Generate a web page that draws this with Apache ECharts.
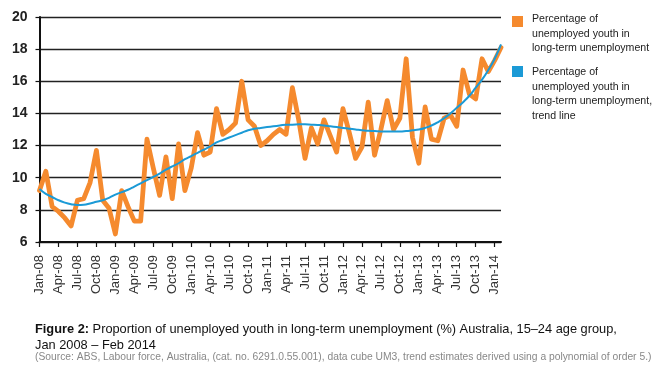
<!DOCTYPE html>
<html><head><meta charset="utf-8">
<script src="https://cdn.jsdelivr.net/npm/echarts@6/dist/echarts.min.js"></script>
<style>html,body{margin:0;padding:0;background:#fff;}#c{width:664px;height:373px;}</style>
</head><body><div id="c"></div>
<script>
const monthNames = ['Jan','Feb','Mar','Apr','May','Jun','Jul','Aug','Sep','Oct','Nov','Dec'];
const years = ['08','09','10','11','12','13','14'];
const categories = [];
years.forEach(function(y){ monthNames.forEach(function(m){ categories.push(m + '-' + y); }); });
categories.length = 74; // Jan-08 .. Feb-14

const youthLTU = [9.2,10.4,8.2,7.9,7.5,7.0,8.6,8.7,9.7,11.7,
  8.6,8.1,6.5,9.2,8.2,7.3,7.3,12.4,10.6,8.9,
  11.3,8.7,12.1,9.2,10.6,12.8,11.4,11.6,14.3,12.7,
  13.0,13.4,16.0,13.6,13.2,12.0,12.3,12.7,13.0,12.7,
  15.6,13.6,11.2,13.1,12.1,13.6,12.6,11.6,14.3,12.8,
  11.2,11.9,14.7,11.4,13.0,14.8,13.0,13.7,17.4,12.5,
  10.9,14.4,12.4,12.3,13.7,13.9,13.2,16.7,15.2,14.9,
  17.4,16.6,17.3,18.1];

const trendLine = [9.3,9.0,8.8,8.6,8.45,8.35,8.3,8.32,8.4,8.5,
  8.6,8.75,8.95,9.1,9.25,9.45,9.65,9.85,10.05,10.25,
  10.5,10.7,10.9,11.15,11.35,11.55,11.75,11.95,12.2,12.35,
  12.5,12.65,12.8,12.95,13.05,13.1,13.15,13.2,13.25,13.3,
  13.3,13.32,13.32,13.3,13.28,13.25,13.2,13.15,13.1,13.05,
  13.0,12.95,12.92,12.9,12.88,12.87,12.87,12.87,12.9,12.95,
  13.0,13.1,13.25,13.45,13.7,14.0,14.35,14.7,15.1,15.6,
  16.1,16.7,17.4,18.3];

const seriesNames = ['Percentage of\nunemployed youth in\nlong-term unemployment',
  'Percentage of\nunemployed youth in\nlong-term unemployment,\ntrend line'];
const colors = ['#F58A2E', '#1B9AD6'];

const font = '"Liberation Sans", Arial, sans-serif';
const chart = echarts.init(document.getElementById('c'), null, {renderer:'canvas'});
chart.setOption({
  animation: false,
  backgroundColor: '#fff',
  grid: {left: 39.5, right: 163, top: 17, bottom: 131, containLabel: false},
  xAxis: {
    type: 'category', data: categories, boundaryGap: false,
    axisLine: {lineStyle: {color: '#111', width: 2}},
    axisTick: {show: true, interval: 2, length: 5, lineStyle: {color: '#111', width: 1.2}},
    axisLabel: {interval: 2, rotate: 90, color: '#333', fontSize: 13, fontFamily: font, margin: 13}
  },
  yAxis: {
    type: 'value', min: 6, max: 20, interval: 2,
    axisLine: {show: true, lineStyle: {color: '#111', width: 2}},
    axisTick: {show: true, length: 4, lineStyle: {color: '#111', width: 1.2}},
    axisLabel: {color: '#222', fontSize: 14, fontWeight: 'bold', fontFamily: font, margin: 12},
    splitLine: {lineStyle: {color: '#222', width: 1.3}}
  },
  series: [
    {name: 'LTU', type: 'line', data: youthLTU, symbol: 'none',
     lineStyle: {color: colors[0], width: 4.8, join: 'round', cap: 'round'}, z: 2},
    {name: 'Trend', type: 'line', data: trendLine, symbol: 'none', smooth: true,
     lineStyle: {color: colors[1], width: 2}, z: 3}
  ],
  graphic: [
    {type: 'rect', left: 512, top: 16, shape: {width: 11, height: 11}, style: {fill: colors[0]}},
    {type: 'text', left: 532, top: 12, style: {text: seriesNames[0], font: '10.6px ' + font, fill: '#222', lineHeight: 14.5}},
    {type: 'rect', left: 512, top: 66, shape: {width: 11, height: 11}, style: {fill: colors[1]}},
    {type: 'text', left: 532, top: 65, style: {text: seriesNames[1], font: '10.6px ' + font, fill: '#222', lineHeight: 14.5}},
    {type: 'text', left: 35, top: 321, style: {
      text: '{b|Figure 2:} Proportion of unemployed youth in long-term unemployment (%) Australia, 15–24 age group,\nJan 2008 – Feb 2014',
      font: '12.8px ' + font, fill: '#111', lineHeight: 16,
      rich: {b: {fontWeight: 'bold', fontSize: 12.8, fontFamily: font, fill: '#111'}}}},
    {type: 'text', left: 35, top: 352, style: {
      text: '(Source: ABS, Labour force, Australia, (cat. no. 6291.0.55.001), data cube UM3, trend estimates derived using a polynomial of order 5.)',
      font: '10.3px ' + font, fill: '#888'}}
  ]
});
</script></body></html>
